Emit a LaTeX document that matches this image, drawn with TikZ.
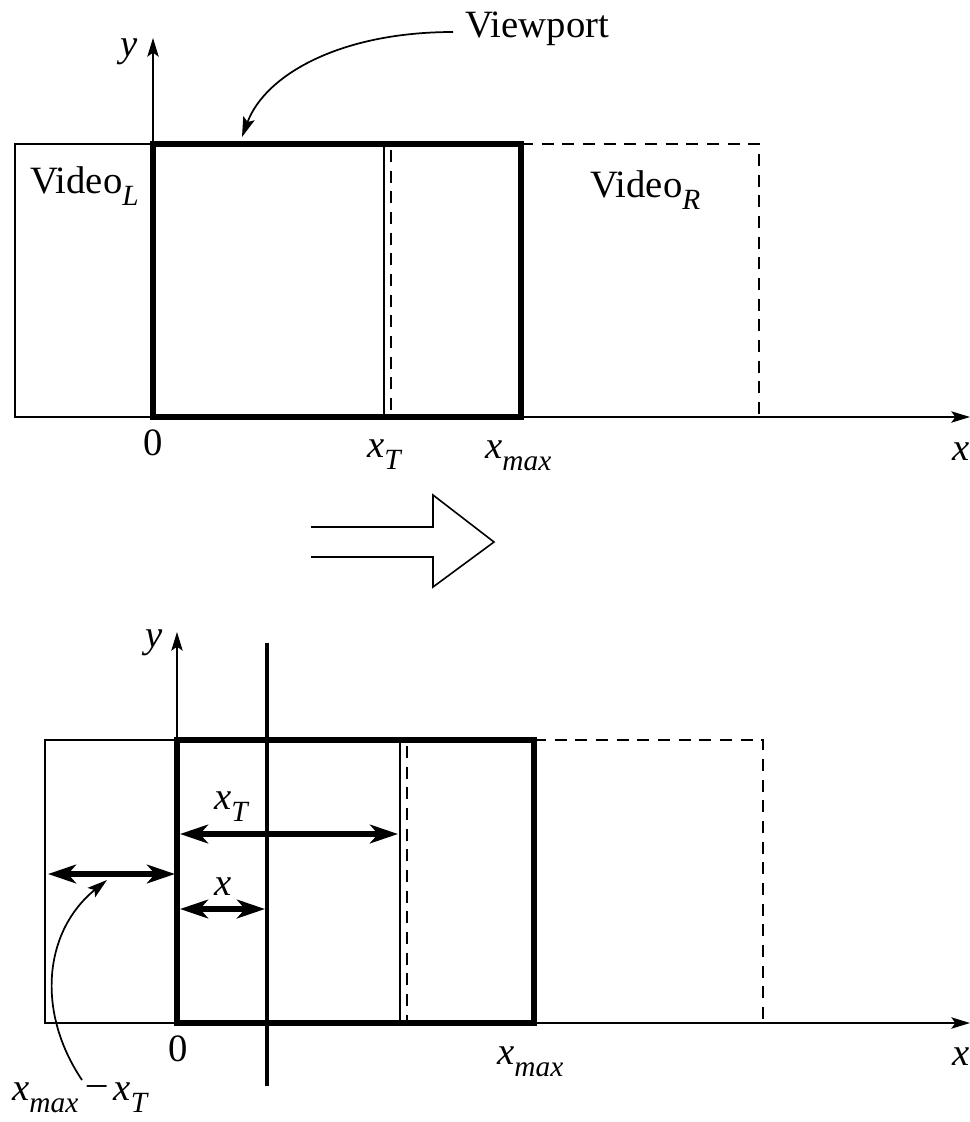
\documentclass[tikz,border=0pt]{standalone}
\usepackage{fontspec}
\setmainfont{Liberation Serif}
\usetikzlibrary{arrows.meta}
\newcommand{\sbs}[1]{\raisebox{-0.32em}{\fontsize{22}{22}\selectfont\textit{#1}}}
\newcommand{\vx}[1]{\textit{x}\sbs{#1}}
\begin{document}
\begin{tikzpicture}[x=0.75pt,y=-0.75pt,
  thinbox/.style={line width=1.9pt},
  thickbox/.style={line width=5pt},
  dashbox/.style={line width=1.7pt,dash pattern=on 9pt off 6.5pt},
  axis/.style={line width=1.4pt,-{Stealth[length=14pt,width=8.5pt,inset=3pt]}},
  dimarrow/.style={line width=4.6pt,{Stealth[length=21pt,width=14pt,inset=6pt]}-{Stealth[length=21pt,width=14pt,inset=6pt]}},
  pointer/.style={line width=1.3pt,-{Stealth[length=15pt,width=9pt,inset=3pt]}},
  lbl/.style={font=\fontsize{29}{33}\selectfont,inner sep=0pt}]
\useasboundingbox (0,0) rectangle (970,1122);
% ---------- top panel ----------
\coordinate (tO) at (153,417);
\draw[dashbox] (521,144) -- (759,144) -- (759,417);
\draw[dashbox] (391,150) -- (391,417);
\draw[thinbox] (153,144) -- (15,144) -- (15,417) -- (153,417);
\draw[thinbox] (384,144) -- (384,417);
\draw[axis] (tO) -- (970,417);
\draw[axis] (153,144) -- (153,38);
\draw[thickbox] (153,144) rectangle (521,417);
\node[lbl] (ty) at (129,52) {\textit{y}};
\node[lbl] (tx) at (961,452) {\textit{x}};
\node[lbl] (t0) at (153,443) {0};
\node[lbl,anchor=base west] (txT) at (367,457) {\vx{T}};
\node[lbl,anchor=base west] (txm) at (485,458) {\vx{max}};
\node[lbl,anchor=base west] (vl) at (30,193) {Video\sbs{L}};
\node[lbl,anchor=base west] (vr) at (590,197) {Video\sbs{R}};
\node[lbl,anchor=base west] (vp) at (465,37) {Viewport};
\coordinate (vpstart) at (453,32);
\coordinate (vptip) at (242,137);
\draw[pointer] (vpstart) .. controls (340,32) and (265,75) .. (vptip);
% ---------- big arrow ----------
\draw[line width=1.2pt,line join=miter] (311,527) -- (433,527) -- (433,495) -- (494,542) -- (433,587) -- (433,557) -- (311,557);
% ---------- bottom panel ----------
\coordinate (bO) at (177,1023);
\draw[dashbox] (534,740) -- (763,740) -- (763,1023);
\draw[dashbox] (407,746) -- (407,1023);
\draw[thinbox] (177,740) -- (45,740) -- (45,1023) -- (177,1023);
\draw[thinbox] (400,740) -- (400,1023);
\draw[axis] (bO) -- (970,1023);
\draw[axis] (177,740) -- (177,632);
\draw[thickbox] (177,740) rectangle (534,1023);
\draw[line width=2.4pt] (267,643) -- (267,1086);
\draw[dimarrow] (180,834) -- (398,834);
\draw[dimarrow] (180,909) -- (265,909);
\draw[dimarrow] (48,874) -- (175,874);
\node[lbl] (by) at (154,643) {\textit{y}};
\node[lbl] (bx) at (961,1057) {\textit{x}};
\node[lbl] (b0) at (178,1049) {0};
\node[lbl,anchor=base west] (bxm) at (497,1064) {\vx{max}};
\node[lbl,anchor=base west] (bxT) at (214,809) {\vx{T}};
\node[lbl] (bxx) at (223,887) {\textit{x}};
\node[lbl,anchor=base west] (bdiff) at (12,1100) {\vx{max}\hspace{7pt}\raisebox{0.12em}{\textendash}\hspace{5pt}\vx{T}};
\coordinate (diffstart) at (82,1080);
\coordinate (difftip) at (107,880);
\draw[pointer] (diffstart) .. controls (35,1010) and (45,930) .. (difftip);
\end{tikzpicture}
\end{document}
